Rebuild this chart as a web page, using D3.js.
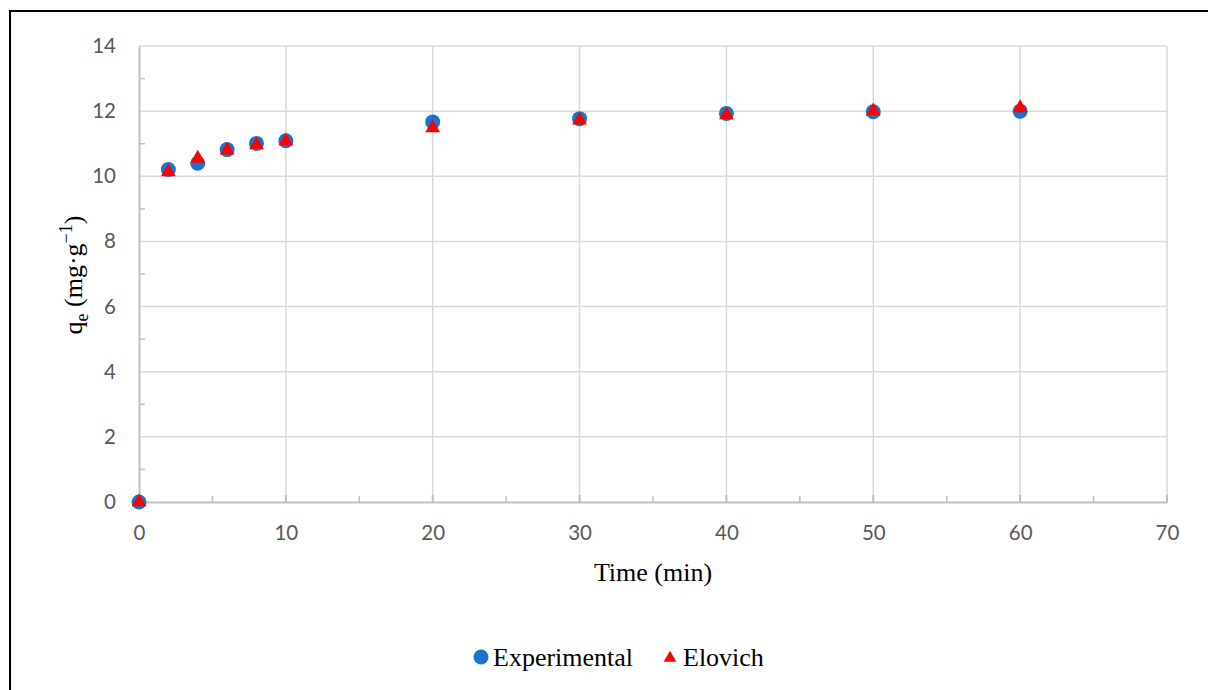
<!DOCTYPE html>
<html><head><meta charset="utf-8">
<script src="https://cdn.jsdelivr.net/npm/d3@7"></script>
<style>body{margin:0;background:#fff;}svg{display:block;}</style>
</head><body>
<svg id="c" width="1208" height="690"></svg>
<script>
const timeMin = [0, 2, 4, 6, 8, 10, 20, 30, 40, 50, 60];
const experimental = [0, 10.21, 10.40, 10.82, 11.01, 11.09, 11.67, 11.77, 11.93, 11.98, 12.00];
const elovich = [0, 10.13, 10.55, 10.80, 10.96, 11.08, 11.48, 11.72, 11.88, 12.00, 12.10];
const xTicks = [0, 10, 20, 30, 40, 50, 60, 70];
const yTicks = [0, 2, 4, 6, 8, 10, 12, 14];
const xMinor = [5, 15, 25, 35, 45, 55, 65];
const yMinor = [1, 3, 5, 7, 9, 11, 13];

const svg = d3.select("#c");
const L = 139, R = 1167, T = 46, B = 502;
const x = d3.scaleLinear().domain([0, 70]).range([L, R]);
const y = d3.scaleLinear().domain([0, 14]).range([B, T]);

// outer frame
svg.append("path").attr("d", "M10,690 V11 H1210").attr("fill", "none").attr("stroke", "#000").attr("stroke-width", 2);

const grid = "#d9d9d9", axisC = "#bfbfbf", tickText = "#595959";
svg.append("g").selectAll("line").data(yTicks.filter(d => d > 0)).join("line")
  .attr("x1", L).attr("x2", R).attr("y1", d => y(d)).attr("y2", d => y(d))
  .attr("stroke", grid).attr("stroke-width", 1.5);
svg.append("g").selectAll("line").data(xTicks.filter(d => d > 0)).join("line")
  .attr("x1", d => x(d)).attr("x2", d => x(d)).attr("y1", T).attr("y2", B)
  .attr("stroke", grid).attr("stroke-width", 1.5);

const tickFont = "Lato, 'Open Sans', sans-serif";
const xAxis = d3.axisBottom(x).tickValues(xTicks).tickSize(0).tickPadding(23);
const gx = svg.append("g").attr("transform", `translate(0,${B})`).call(xAxis);
gx.select(".domain").attr("stroke", axisC).attr("stroke-width", 2);
gx.selectAll("text").attr("fill", tickText).style("font-family", tickFont).style("font-size", "20.5px");

const yAxis = d3.axisLeft(y).tickValues(yTicks).tickSize(0).tickPadding(23);
const gy = svg.append("g").attr("transform", `translate(${L},0)`).call(yAxis);
gy.select(".domain").attr("stroke", axisC).attr("stroke-width", 2);
gy.selectAll("text").attr("fill", tickText).style("font-family", tickFont).style("font-size", "20.5px");

svg.append("g").selectAll("line").data(yMinor).join("line")
  .attr("x1", L).attr("x2", L + 6).attr("y1", d => y(d)).attr("y2", d => y(d))
  .attr("stroke", axisC).attr("stroke-width", 1.5);
svg.append("g").selectAll("line").data(xMinor).join("line")
  .attr("x1", d => x(d)).attr("x2", d => x(d)).attr("y1", B).attr("y2", B - 6)
  .attr("stroke", axisC).attr("stroke-width", 1.5);
svg.append("g").selectAll("line").data(xTicks.filter(d => d > 0)).join("line")
  .attr("x1", d => x(d)).attr("x2", d => x(d)).attr("y1", B).attr("y2", B - 7)
  .attr("stroke", axisC).attr("stroke-width", 2);

const blue = "#1874CD", red = "#FF0000";
const triSym = d3.symbol().type(d3.symbolTriangle).size(95);
svg.append("g").selectAll("circle").data(timeMin).join("circle")
  .attr("cx", d => x(d)).attr("cy", (d, i) => y(experimental[i])).attr("r", 7.5).attr("fill", blue);
svg.append("g").selectAll("path").data(timeMin).join("path")
  .attr("d", triSym).attr("transform", (d, i) => `translate(${x(d)},${y(elovich[i])})`).attr("fill", red);

const serif = "'Liberation Serif', 'Times New Roman', serif";
svg.append("text").attr("x", 653).attr("y", 581).attr("text-anchor", "middle")
  .style("font-family", serif).style("font-size", "26px").attr("fill", "#000")
  .text("Time (min)");
const yt = svg.append("text").attr("transform", "translate(82,275) rotate(-90)").attr("text-anchor", "middle")
  .style("font-family", serif).style("font-size", "26px").attr("fill", "#000");
yt.append("tspan").text("q");
yt.append("tspan").text("e").attr("dy", 6).style("font-size", "18px");
yt.append("tspan").text(" (mg·g").attr("dy", -6);
yt.append("tspan").text("−1").attr("dy", -10).style("font-size", "18px");
yt.append("tspan").text(")").attr("dy", 10);

const lg = svg.append("g").style("font-family", serif).style("font-size", "26px");
lg.append("circle").attr("cx", 481).attr("cy", 657).attr("r", 7.5).attr("fill", blue);
lg.append("text").attr("x", 493).attr("y", 666).text("Experimental");
lg.append("path").attr("d", d3.symbol().type(d3.symbolTriangle).size(70)).attr("transform", "translate(670,658)").attr("fill", red);
lg.append("text").attr("x", 683).attr("y", 666).text("Elovich");
</script>
</body></html>
